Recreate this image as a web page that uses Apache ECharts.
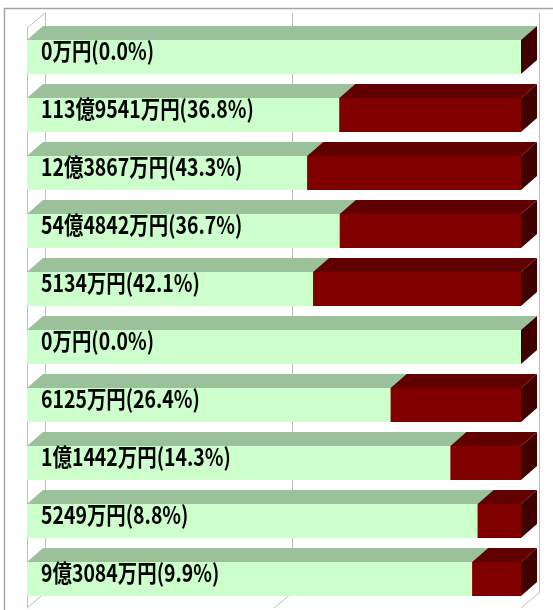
<!DOCTYPE html>
<html>
<head>
<meta charset="utf-8">
<script src="https://cdn.jsdelivr.net/npm/echarts@6/dist/echarts.min.js"></script>
<style>
html,body{margin:0;padding:0;background:#fff;}
#chart{width:553px;height:610px;}
</style>
</head>
<body>
<div id="chart"></div>
<script>
// ---- data (top to bottom) ----
const categories = ['1','2','3','4','5','6','7','8','9','10'];
const amounts = ['0万円','113億9541万円','12億3867万円','54億4842万円','5134万円','0万円','6125万円','1億1442万円','5249万円','9億3084万円'];
const ratios = [0.0, 36.8, 43.3, 36.7, 42.1, 0.0, 26.4, 14.3, 8.8, 9.9];
const gridTicks = [0, 50, 100];

const chart = echarts.init(document.getElementById('chart'), null, {renderer: 'canvas'});

const DX = 16, DY = 14, FRONT_H = 34;
const WALL_DX = 18, WALL_DY = 15;
const barData = ratios.map((r, i) => [i, r]);

function renderBar(params, api) {
  const idx = api.value(0);
  const pct = api.value(1);
  const pL = api.coord([0, idx]);
  const pS = api.coord([100 - pct, idx]);
  const pR = api.coord([100, idx]);
  const cy = pL[1];
  const y0 = cy - FRONT_H / 2, y1 = cy + FRONT_H / 2;
  const x0 = pL[0], xs = pS[0], x1 = pR[0];
  const label = amounts[idx] + '(' + pct.toFixed(1) + '%)';
  return {
    type: 'group',
    children: [
      {type: 'polygon', shape: {points: [[x0, y0], [xs, y0], [xs + DX, y0 - DY], [x0 + DX, y0 - DY]]}, style: {fill: '#9BC19B'}},
      {type: 'rect', shape: {x: x0, y: y0, width: xs - x0, height: FRONT_H}, style: {fill: '#CCFFCC'}},
      {type: 'polygon', shape: {points: [[xs, y0], [x1, y0], [x1 + DX, y0 - DY], [xs + DX, y0 - DY]]}, style: {fill: '#600000'}},
      {type: 'rect', shape: {x: xs, y: y0, width: x1 - xs, height: FRONT_H}, style: {fill: '#800000'}},
      {type: 'polygon', shape: {points: [[x1, y0], [x1 + DX, y0 - DY], [x1 + DX, y1 - DY], [x1, y1]]}, style: {fill: '#400000'}},
      {type: 'text', x: x0 + 14, y: cy - 6, scaleX: 0.81, scaleY: 1,
       style: {text: label, fill: '#000', font: 'bold 24px "Noto Sans CJK JP", sans-serif', align: 'left', verticalAlign: 'middle'}}
    ]
  };
}

function renderWallEdges(params, api) {
  const v = api.value(0);
  const cs = params.coordSys;
  const x = api.coord([v, 0])[0];
  const yb = cs.y + cs.height;
  const children = [
    {type: 'line', shape: {x1: x, y1: yb, x2: x + WALL_DX, y2: yb - WALL_DY}, style: {stroke: '#BFBFBF', lineWidth: 1}}
  ];
  if (v === 0) {
    children.push({type: 'line', shape: {x1: x, y1: cs.y, x2: x + WALL_DX, y2: cs.y - WALL_DY}, style: {stroke: '#BFBFBF', lineWidth: 1}});
  }
  return {type: 'group', children};
}

chart.setOption({
  backgroundColor: '#ffffff',
  animation: false,
  graphic: [{
    type: 'rect', shape: {x: 4.5, y: 8.5, width: 600, height: 700},
    style: {fill: 'none', stroke: '#A6A6A6', lineWidth: 1.5}, z: -10
  }],
  grid: [
    {left: 27, right: 32, top: 28, bottom: 2},
    {left: 45, right: 14, top: 13, bottom: 17}
  ],
  xAxis: [
    {type: 'value', gridIndex: 0, min: 0, max: 100, interval: 50, show: true,
     axisLabel: {show: false}, axisTick: {show: false}, axisLine: {show: false}, splitLine: {show: false}},
    {type: 'value', gridIndex: 1, min: 0, max: 100, interval: 50,
     axisLabel: {show: false}, axisTick: {show: false}, axisLine: {show: false},
     splitLine: {show: true, lineStyle: {color: '#BFBFBF', width: 1}}}
  ],
  yAxis: [
    {type: 'category', gridIndex: 0, data: categories, inverse: true,
     axisLabel: {show: false}, axisTick: {show: false},
     axisLine: {show: true, lineStyle: {color: '#BFBFBF', width: 1}}},
    {type: 'category', gridIndex: 1, data: categories, inverse: true, show: false}
  ],
  series: [
    {type: 'custom', xAxisIndex: 0, yAxisIndex: 0, data: gridTicks.map(t => [t]), renderItem: renderWallEdges, encode: {x: 0}, silent: true, z: 1},
    {type: 'custom', xAxisIndex: 0, yAxisIndex: 0, data: barData, renderItem: renderBar, encode: {x: 1, y: 0}, z: 3}
  ]
});
</script>
</body>
</html>
